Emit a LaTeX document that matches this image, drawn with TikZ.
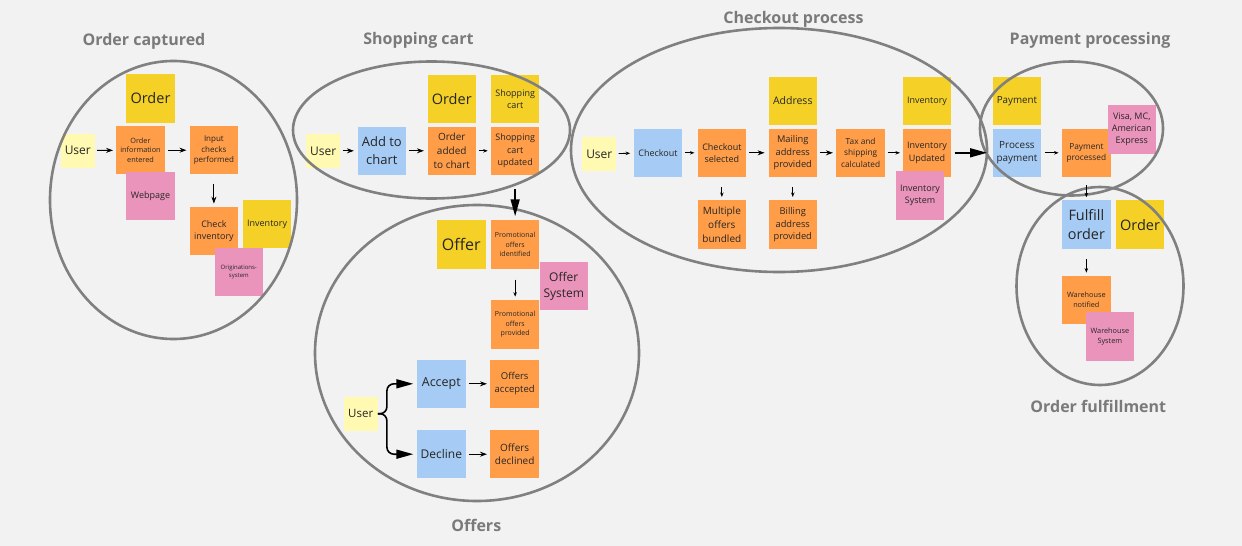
\documentclass[tikz,border=0pt]{standalone}
\usepackage{fontspec}
\setmainfont{Open Sans}
\usetikzlibrary{shapes.geometric,arrows.meta,positioning}
\definecolor{bgcol}{HTML}{F2F2F2}
\definecolor{entitycol}{HTML}{F5D128}
\definecolor{eventcol}{HTML}{FF9D48}
\definecolor{syscol}{HTML}{EA94BB}
\definecolor{cmdcol}{HTML}{A6CCF5}
\definecolor{actorcol}{HTML}{FFF9B1}
\definecolor{zonecol}{HTML}{808080}
\definecolor{titlecol}{HTML}{7A7A7A}
\definecolor{notetext}{HTML}{262626}
\tikzset{
  sz/.style={font=\fontsize{#1}{\fpeval{#1*1.36}}\selectfont},
  note/.style={rectangle,minimum width=48.5pt,minimum height=48.5pt,inner sep=0pt,align=center,text=notetext,sz=9},
  entity/.style={note,fill=entitycol},
  event/.style={note,fill=eventcol},
  extsys/.style={note,fill=syscol},
  command/.style={note,fill=cmdcol},
  actor/.style={note,fill=actorcol,minimum width=34pt,minimum height=34pt,sz=12},
  zone/.style={ellipse,draw=zonecol,line width=2.6pt,inner sep=0pt},
  zonetitle/.style={anchor=base,text=titlecol,font=\bfseries\fontsize{16}{19}\selectfont},
  arr/.style={-{Stealth[length=7pt,width=5pt]},line width=0.9pt},
  smallarr/.style={-{Stealth[length=4.5pt,width=3.5pt]},line width=0.8pt},
  bigarr/.style={-{Triangle[length=17pt,width=9pt]},line width=1.6pt}
}

\begin{document}
\begin{tikzpicture}[x=1pt,y=-1pt]
  \fill[bgcol] (0,0) rectangle (1242,546);
  \useasboundingbox (0,0) rectangle (1242,546);

  \node[actor] (user1) at (77.8,150.5) {User};
  \node[event,sz=7.3] (oinfo) at (140.5,150.2) {Order\\information\\entered};
  \node[entity,sz=14.5,above=3pt of oinfo,xshift=10pt] (ord1) {Order};
  \node[extsys,below=-3pt of oinfo,xshift=10pt] (web) {Webpage};
  \node[event,sz=8,right=24.5pt of oinfo] (ichk) {Input\\checks\\performed};
  \node[event,below=32pt of ichk] (cinv) {Check\\inventory};
  \node[entity,right=4.3pt of cinv,yshift=7pt] (inv1) {Inventory};
  \node[extsys,sz=6,below right=-8pt and -24pt of cinv] (orig) {Originations-\\system};

  \node[actor] (user2) at (323.2,150.8) {User};
  \node[command,sz=13,right=17pt of user2] (add) {Add to\\chart};
  \node[event,sz=10,right=21pt of add] (oadd) {Order\\added\\to chart};
  \node[entity,sz=14.5,above=3pt of oadd] (ord2) {Order};
  \node[event,right=14.5pt of oadd] (scupd) {Shopping\\cart\\updated};
  \node[entity,above=3pt of scupd] (scart) {Shopping\\cart};

  \node[event,sz=7,below=45pt of scupd] (poid) {Promotional\\offers\\identified};
  \node[entity,sz=16,left=5pt of poid] (offer) {Offer};
  \node[extsys,sz=12,below right=-7.5pt and -0.3pt of poid] (osys) {Offer\\System};
  \node[event,sz=7,below=31pt of poid] (popr) {Promotional\\offers\\provided};
  \node[command,sz=12.5] (accept) at (441.3,383.8) {Accept};
  \node[event,sz=9.5,right=24.5pt of accept] (oacc) {Offers\\accepted};
  \node[command,sz=12,below=21.5pt of accept] (decline) {Decline};
  \node[event,sz=10,right=24.5pt of decline] (odec) {Offers\\declined};
  \node[actor,sz=11.5] (user3) at (360.7,413.7) {User};

  \node[actor] (user4) at (599.3,153.8) {User};
  \node[command,right=17pt of user4,yshift=1pt] (chk) {Checkout};
  \node[event,right=15pt of chk] (chks) {Checkout\\selected};
  \node[event,sz=9.3,right=22pt of chks] (mail) {Mailing\\address\\provided};
  \node[entity,sz=10.5,above=3pt of mail] (addr) {Address};
  \node[event,sz=8.3,right=19pt of mail] (tax) {Tax and\\shipping\\calculated};
  \node[event,right=17.5pt of tax] (invu) {Inventory\\Updated};
  \node[entity,above=3pt of invu] (inv4) {Inventory};
  \node[extsys,below=-6pt of invu,xshift=-7pt] (invs) {Inventory\\System};
  \node[event,sz=10,below=23pt of chks] (multi) {Multiple\\offers\\bundled};
  \node[event,sz=9.3,below=23pt of mail] (bill) {Billing\\address\\provided};

  \node[command,sz=9.9,right=41pt of invu] (ppay) {Process\\payment};
  \node[entity,sz=9.8,above=3pt of ppay] (pay) {Payment};
  \node[event,sz=8.3,right=20.5pt of ppay] (pdone) {Payment\\processed};
  \node[extsys,sz=9,above right=-25.5pt and -3.5pt of pdone] (visa) {Visa, MC,\\American\\Express};

  \node[command,sz=14.4,below=23pt of pdone] (ful) {Fulfill\\order};
  \node[entity,sz=14.5,right=4.8pt of ful] (ord6) {Order};
  \node[event,sz=7.3,below=26.5pt of ful] (wnot) {Warehouse\\notified};
  \node[extsys,sz=7.3,below right=-12.6pt and -25.4pt of wnot] (wsys) {Warehouse\\System};

  \node[zone,minimum width=247pt,minimum height=278pt] (zcapt) at (173.5,200) {};
  \node[zone,minimum width=277pt,minimum height=137pt] (zcart) at (431.5,130) {};
  \node[zone,minimum width=324pt,minimum height=296pt] (zoffer) at (477,353) {};
  \node[zone,minimum width=416pt,minimum height=244pt] (zcheck) at (779,150) {};
  \node[zone,minimum width=183pt,minimum height=134pt] (zpay) at (1071.5,128.5) {};
  \node[zone,minimum width=167pt,minimum height=198pt] (zfulfil) at (1100,286) {};

  \node[zonetitle] (tcapt) at (144,45.3) {Order captured};
  \node[zonetitle] (tcart) at (418.5,44.5) {Shopping cart};
  \node[zonetitle] (toffer) at (476.3,531) {Offers};
  \node[zonetitle] (tcheck) at (793.5,23.3) {Checkout process};
  \node[zonetitle] (tpay) at (1090,44.5) {Payment processing};
  \node[zonetitle] (tfulfil) at (1098.3,412.7) {Order fulfillment};

  \draw[arr,shorten <=2pt,shorten >=3pt] (user1) -- (oinfo);
  \draw[arr,shorten <=3pt,shorten >=3pt] (oinfo) -- (ichk);
  \draw[arr,shorten <=9pt,shorten >=3pt] (ichk) -- (cinv);

  \draw[arr,shorten <=2.5pt,shorten >=3.5pt] (user2) -- (add);
  \draw[arr,shorten <=3pt,shorten >=3.4pt] (add) -- (oadd);
  \draw[smallarr,shorten <=2.5pt,shorten >=3pt] (oadd) -- (scupd);
  \draw[bigarr,shorten <=13.5pt,shorten >=4pt] (scupd) -- (poid);

  \draw[smallarr,shorten <=10.5pt,shorten >=3.5pt] (poid) -- (popr);
  \draw[bigarr,rounded corners=7pt,shorten >=3.5pt] (user3.east) -- ++(9,0) |- (accept.west);
  \draw[bigarr,rounded corners=7pt,shorten >=3.5pt] (user3.east) -- ++(9,0) |- (decline.west);
  \draw[arr,shorten <=2.8pt,shorten >=3.3pt] (accept) -- (oacc);
  \draw[arr,shorten <=2.8pt,shorten >=3.3pt] (decline) -- (odec);

  \draw[smallarr,shorten <=2pt,shorten >=3.4pt] (user4) -- (chk);
  \draw[smallarr,shorten <=2.3pt,shorten >=3pt] (chk) -- (chks);
  \draw[arr,shorten <=2.8pt,shorten >=3.7pt] (chks) -- (mail);
  \draw[arr,shorten <=3pt,shorten >=3.3pt] (mail) -- (tax);
  \draw[smallarr,shorten <=2.5pt,shorten >=2.7pt] (tax) -- (invu);
  \draw[smallarr,shorten <=9.6pt,shorten >=3.3pt] (chks) -- (multi);
  \draw[smallarr,shorten <=9.6pt,shorten >=3.3pt] (mail) -- (bill);
  \draw[bigarr,shorten <=3pt,shorten >=5.5pt] (invu) -- (ppay);

  \draw[smallarr,shorten <=3.5pt,shorten >=3.3pt] (ppay) -- (pdone);
  \draw[smallarr,shorten <=8pt,shorten >=3pt] (pdone) -- (ful);
  \draw[smallarr,shorten <=9.8pt,shorten >=3pt] (ful) -- (wnot);
\end{tikzpicture}
\end{document}
